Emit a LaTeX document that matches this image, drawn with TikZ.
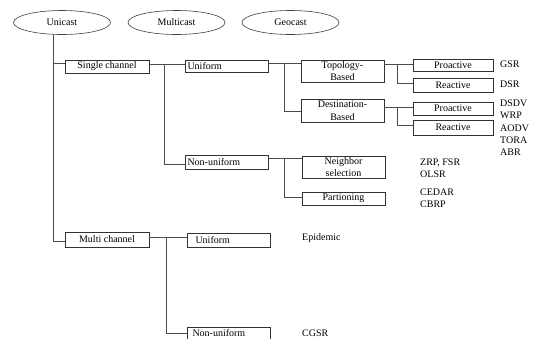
\documentclass[tikz,border=0pt]{standalone}
\usepackage{fontspec}
\setmainfont{Liberation Serif}
\usepackage{tikz}
\usetikzlibrary{positioning,shapes.geometric}
\tikzset{
    ovale/.style={
           ellipse,
           draw=black!75, line width=0.6pt,
           minimum width=97pt,
           minimum height=24pt,
           inner sep=0pt,
           font=\fontsize{10}{12}\selectfont},
    boite/.style={
           rectangle,
           draw=black!80, line width=0.6pt,
           inner sep=0pt,
           minimum width=83pt,
           minimum height=13pt,
           align=center,
           font=\fontsize{10}{12.5}\selectfont},
    boitel/.style={
           boite,
           inner xsep=1.5pt,
           text width=79pt,
           align=left},% texte a gauche
    petite/.style={boite, minimum width=80pt},
    etiq/.style={anchor=west, inner sep=0pt, align=left,
           font=\fontsize{10}{12}\selectfont},
    ligne/.style={draw=black!70, line width=0.6pt}
    }

\begin{document}
\begin{tikzpicture}[x=1pt,y=-1pt]
\useasboundingbox (0,0) rectangle (537,338);
\clip (0,0) rectangle (537,338);
\node[ovale] (uni) at (62,22.5) {Unicast};
\node[ovale] (mul) at (176.5,22.5) {Multicast};
\node[ovale] (geo) at (290.5,22.5) {Geocast};

\node[boite, minimum width=84pt] (single) at (107,66.5) {Single channel};
\node[boitel, minimum height=12pt] (uni1) at (227,66) {Uniform};
\node[boitel, minimum height=14pt] (nonu1) at (227,162) {Non-uniform};
\node[boite, minimum height=22pt] (topo) at (342.5,71) {Topology-\\Based};
\node[boite, minimum height=23pt] (dest) at (342.5,110.5) {Destination-\\Based};
\node[petite, minimum height=12pt] (pro1) at (453,65) {Proactive};
\node[petite, minimum height=14pt] (rea1) at (453,85) {Reactive};
\node[petite] (pro2) at (453,108.5) {Proactive};
\node[petite, minimum height=15pt] (rea2) at (453,127.5) {Reactive};
\node[boite, minimum height=22pt] (nbr) at (343.5,167) {Neighbor\\selection};
\node[boite] (part) at (343.5,198.5) {Partioning};
\node[boite, minimum width=84pt, minimum height=15pt] (multi) at (107,239.5) {Multi channel};
\node[boitel, text width=67pt, inner xsep=7.5pt, minimum height=14pt] (uni2) at (229,240) {Uniform};
\node[boitel, text width=73pt, inner xsep=4.5pt, minimum height=13pt] (nonu2) at (229,333.5) {Non-uniform};

\node[etiq] (gsr) at (500,64) {GSR};
\node[etiq] (dsr) at (500,84) {DSR};
\node[etiq] (dsdv) at (500,109.5) {DSDV\\WRP};
\node[etiq] (aodv) at (500,140) {AODV\\TORA\\ABR};
\node[etiq] (zrp) at (420,168) {ZRP, FSR\\OLSR};
\node[etiq] (cedar) at (420,198) {CEDAR\\CBRP};
\node[etiq] (epi) at (302,238) {Epidemic};
\node[etiq] (cgsr) at (302,333) {CGSR};

\coordinate (tronc) at ([xshift=-9pt]uni.south);
\coordinate (j1) at (164,64.5);
\coordinate (j2) at (284,63.5);
\coordinate (j3) at (397,64.5);
\coordinate (j4) at (397,107);
\coordinate (j5) at (284,158);
\coordinate (j6) at (166,237);

\draw[ligne] ([yshift=3.5pt]single.west) -| (tronc);
\draw[ligne] ([yshift=-1.5pt]multi.west) -| (tronc);

\draw[ligne] ([yshift=2pt]single.east) -- (j1);
\draw[ligne] ([yshift=1.5pt]uni1.west) -| (j1);
\draw[ligne] ([yshift=-2pt]nonu1.west) -| (j1);

\draw[ligne] ([yshift=2.5pt]uni1.east) -- (j2);
\draw[ligne] ([yshift=7.5pt]topo.west) -| (j2);
\draw[ligne] ([yshift=-1pt]dest.west) -| (j2);

\draw[ligne] ([yshift=6.5pt]topo.east) -- (j3);
\draw[ligne] ([yshift=0.5pt]pro1.west) -| (j3);
\draw[ligne] ([yshift=1.5pt]rea1.west) -| (j3);

\draw[ligne] ([yshift=3.5pt]dest.east) -- (j4);
\draw[ligne] ([yshift=1.5pt]pro2.west) -| (j4);
\draw[ligne] ([yshift=2.5pt]rea2.west) -| (j4);

\draw[ligne] ([yshift=4pt]nonu1.east) -- (j5);
\draw[ligne] ([yshift=9pt]nbr.west) -| (j5);
\draw[ligne] ([yshift=1.5pt]part.west) -| (j5);

\draw[ligne] ([yshift=2.5pt]multi.east) -- (j6);
\draw[ligne] ([yshift=3pt]uni2.west) -| (j6);
\draw[ligne] ([yshift=0pt]nonu2.west) -| (j6);
\end{tikzpicture}
\end{document}
